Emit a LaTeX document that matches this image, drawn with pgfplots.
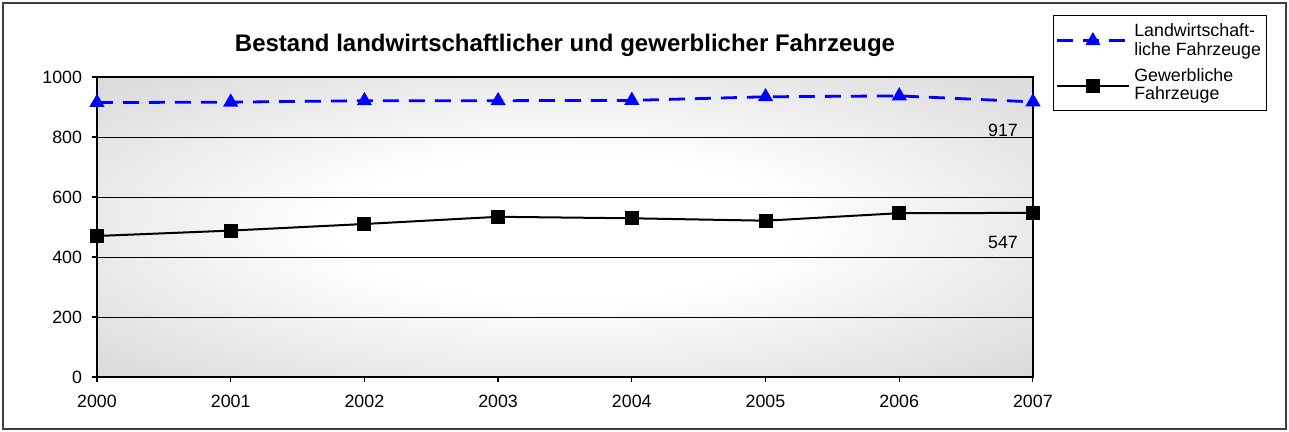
\documentclass[border=0pt]{standalone}
\usepackage{pgfplots}
\pgfplotsset{compat=1.18}
\usepackage{fontspec}
\setmainfont{Liberation Sans}
\definecolor{lwblue}{HTML}{0000FF}
\pgfdeclareradialshading{bgshade}{\pgfpoint{0bp}{0bp}}{%
  color(0bp)=(white); color(12bp)=(white); color(50bp)=(black!24); color(71bp)=(black!27)}

\begin{document}
\begin{tikzpicture}
\useasboundingbox (-48.5pt,-27.5pt) rectangle (596pt,188.5pt);
\draw[black!75,line width=0.6pt] (-47pt,-26pt) rectangle (594.5pt,187pt);
\begin{axis}[
  at={(0pt,0pt)}, anchor=south west,
  scale only axis, width=468pt, height=150pt,
  xmin=2000, xmax=2007, ymin=0, ymax=1000,
  xtick={2000,...,2007}, ytick={0,200,...,1000},
  /pgf/number format/1000 sep=,
  ticklabel style={font=\fontsize{8.9}{10}\selectfont},
  /pgf/number format/assume math mode=true,
  tick align=outside, major tick length=2.5pt,
  tick style={black,line width=0.6pt},
  xtick pos=bottom, ytick pos=left,
  yticklabel style={xshift=-1.5pt},
  xticklabel style={yshift=-3pt},
  ymajorgrids, grid style={black,line width=0.4pt},
  axis line style={black,line width=0.6pt},
  axis background/.style={shading=bgshade},
  clip=false,
  legend style={at={(1.0214,1.2067)}, anchor=north west, draw=black,
    line width=0.5pt, fill=white, font=\fontsize{8.9}{9.4}\selectfont,
    cells={align=left, anchor=west}, inner xsep=1pt, inner ysep=2pt,
    row sep=1pt},
  legend cell align=left,
  legend image code/.code={\draw[mark repeat=2,mark phase=2,#1]
    plot coordinates {(0pt,0pt) (18pt,0pt) (36pt,0pt)};},
]
\addplot[lwblue, line width=1.4pt, dash pattern=on 8pt off 5pt,
  mark=triangle*, mark size=3pt, mark options={solid}]
  coordinates {(2000,915) (2001,916) (2002,921) (2003,921)
               (2004,922) (2005,934) (2006,937) (2007,917)};
\addlegendentry{Landwirtschaft-\\liche Fahrzeuge}
\addplot[black, line width=1pt, mark=square*, mark size=3pt]
  coordinates {(2000,470) (2001,488) (2002,510) (2003,534)
               (2004,529) (2005,521) (2006,546) (2007,547)};
\addlegendentry{Gewerbliche\\Fahrzeuge}
\draw[black,line width=0.6pt] (rel axis cs:0,1) -- (rel axis cs:1,1) -- (rel axis cs:1,0);
\node[font=\fontsize{8.9}{10}\selectfont] at (axis cs:2007,823) [xshift=-15pt] {917};
\node[font=\fontsize{8.9}{10}\selectfont] at (axis cs:2007,447) [xshift=-15pt] {547};
\end{axis}
\node[font=\bfseries\fontsize{12}{14}\selectfont] at (234pt,166pt)
  {Bestand landwirtschaftlicher und gewerblicher Fahrzeuge};
\end{tikzpicture}
\end{document}
